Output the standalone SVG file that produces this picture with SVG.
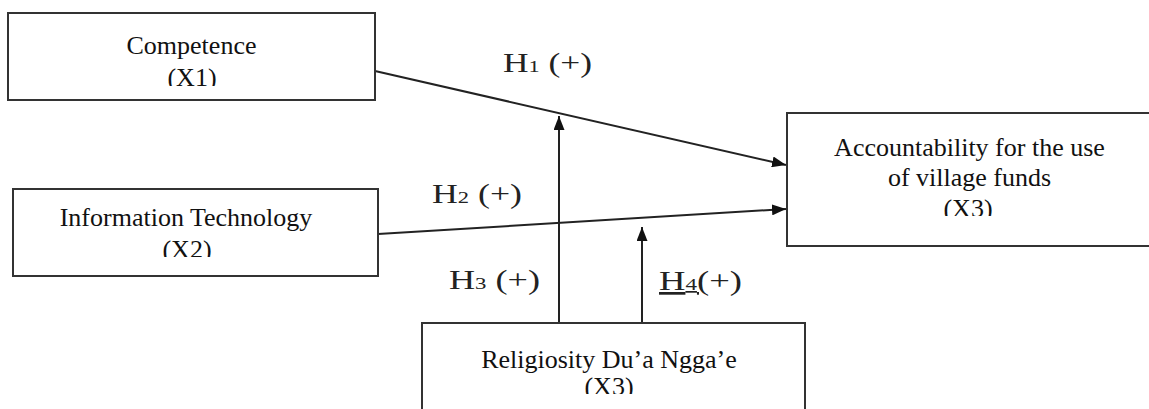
<svg xmlns="http://www.w3.org/2000/svg" width="1149" height="409" viewBox="0 0 1149 409">
<style>
.box{fill:#fff;stroke:#333;stroke-width:2}
.t{font-family:"Liberation Serif","Times New Roman",serif;font-size:26px;fill:#111;text-anchor:middle}
.lbl{font-family:"Liberation Serif","Times New Roman",serif;font-size:27px;fill:#222}
.sub{font-size:17px}
.edge{stroke:#222;stroke-width:2;fill:none}
</style>
<defs>
<marker id="arr" markerUnits="userSpaceOnUse" markerWidth="15" markerHeight="11" refX="14" refY="5.5" orient="auto">
<path d="M0,0 L14,5.5 L0,11 Z" fill="#111"/>
</marker>
<clipPath id="c1"><rect x="0" y="0" width="400" height="86"/></clipPath>
<clipPath id="c2"><rect x="0" y="180" width="400" height="77"/></clipPath>
<clipPath id="c3"><rect x="790" y="110" width="359" height="106"/></clipPath>
<clipPath id="c4"><rect x="425" y="325" width="378" height="69"/></clipPath>
</defs>
<rect width="1149" height="409" fill="#fff"/>
<g id="connectors">
<line class="edge" x1="375" y1="71" x2="786" y2="165" marker-end="url(#arr)"/>
<line class="edge" x1="378" y1="234" x2="786" y2="209" marker-end="url(#arr)"/>
<line class="edge" x1="559" y1="323" x2="559" y2="116" marker-end="url(#arr)"/>
<line class="edge" x1="642" y1="323" x2="642" y2="227" marker-end="url(#arr)"/>
<text class="lbl" x="503" y="72" textLength="89" lengthAdjust="spacingAndGlyphs">H<tspan class="sub">1</tspan> (+)</text>
<text class="lbl" x="432" y="203" textLength="90" lengthAdjust="spacingAndGlyphs">H<tspan class="sub">2</tspan> (+)</text>
<text class="lbl" x="449" y="289" textLength="91" lengthAdjust="spacingAndGlyphs">H<tspan class="sub">3</tspan> (+)</text>
<text class="lbl" x="659" y="290" textLength="83" lengthAdjust="spacingAndGlyphs"><tspan text-decoration="underline">H<tspan class="sub">4</tspan>(</tspan>+)</text>
</g>
<g id="competence">
<rect class="box" x="8" y="13" width="367" height="87"/>
<text class="t" x="191.5" y="54">Competence</text>
<text class="t" x="192" y="86" clip-path="url(#c1)">(X1)</text>
</g>
<g id="information-technology">
<rect class="box" x="13" y="189" width="365" height="87"/>
<text class="t" x="186" y="226">Information Technology</text>
<text class="t" x="187" y="258" clip-path="url(#c2)">(X2)</text>
</g>
<g id="accountability">
<rect class="box" x="787" y="113" width="380" height="133"/>
<text class="t" x="969.5" y="156">Accountability for the use</text>
<text class="t" x="969.5" y="186">of village funds</text>
<text class="t" x="968" y="217" clip-path="url(#c3)">(X3)</text>
</g>
<g id="religiosity">
<rect class="box" x="422" y="323" width="383" height="100"/>
<text class="t" x="609" y="368">Religiosity Du’a Ngga’e</text>
<text class="t" x="609" y="395" clip-path="url(#c4)">(X3)</text>
</g>
</svg>
